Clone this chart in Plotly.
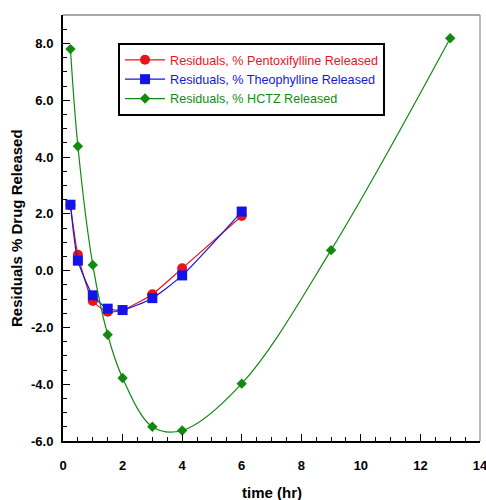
import plotly.graph_objects as go

time_pentox = [0.25, 0.5, 1, 1.5, 2, 3, 4, 6]
resid_pentox = [2.3, 0.56, -1.07, -1.45, -1.39, -0.83, 0.08, 1.92]

time_theo = [0.25, 0.5, 1, 1.5, 2, 3, 4, 6]
resid_theo = [2.32, 0.35, -0.87, -1.34, -1.39, -0.97, -0.17, 2.08]

time_hctz = [0.25, 0.5, 1, 1.5, 2, 3, 4, 6, 9, 13]
resid_hctz = [7.8, 4.38, 0.2, -2.26, -3.78, -5.5, -5.63, -3.98, 0.72, 8.18]

y_ticks = [-6, -4, -2, 0, 2, 4, 6, 8]
x_ticks = [0, 2, 4, 6, 8, 10, 12, 14]

FONT = "Liberation Sans, Arial, sans-serif"
RED, BLUE, GREEN = "#e8141c", "#1414e8", "#128a12"

fig = go.Figure()
fig.add_trace(go.Scatter(
    x=time_pentox, y=resid_pentox, mode="lines+markers",
    name=f"<span style='color:{RED}'>Residuals, % Pentoxifylline Released</span>",
    line=dict(color=RED, width=1.2, shape="spline", smoothing=0.6),
    marker=dict(symbol="circle", size=10, color=RED),
))
fig.add_trace(go.Scatter(
    x=time_theo, y=resid_theo, mode="lines+markers",
    name=f"<span style='color:{BLUE}'>Residuals, % Theophylline Released</span>",
    line=dict(color=BLUE, width=1.2, shape="spline", smoothing=0.6),
    marker=dict(symbol="square", size=10, color=BLUE),
))
fig.add_trace(go.Scatter(
    x=time_hctz, y=resid_hctz, mode="lines+markers",
    name=f"<span style='color:{GREEN}'>Residuals, % HCTZ Released</span>",
    line=dict(color=GREEN, width=1.2, shape="spline", smoothing=1.0),
    marker=dict(symbol="diamond", size=8, color=GREEN),
))

fig.update_layout(
    width=486, height=500,
    margin=dict(l=63, r=6, t=15, b=59, autoexpand=False),
    paper_bgcolor="white", plot_bgcolor="white",
    font=dict(family=FONT, size=12, color="black"),
    showlegend=True,
    legend=dict(
        x=0.132, y=0.934, xanchor="left", yanchor="top",
        bordercolor="black", borderwidth=2, bgcolor="white",
        font=dict(size=12.6, family=FONT),
        tracegroupgap=0, itemwidth=40,
    ),
    xaxis=dict(
        range=[0, 14], tickvals=x_ticks, ticktext=[str(v) for v in x_ticks],
        ticks="inside", ticklen=7, tickwidth=1, tickcolor="black",
        minor=dict(dtick=0.5, ticks="inside", ticklen=4, tickcolor="black", showgrid=False),
        showline=True, linecolor="black", linewidth=2,
        showgrid=False, zeroline=False, automargin=False,
        tickfont=dict(size=13, family=FONT, weight="bold"),
        ticklabelstandoff=11, ticklabeloverflow="allow",
    ),
    yaxis=dict(
        range=[-6, 9], tickvals=y_ticks, ticktext=["%.1f" % v for v in y_ticks],
        ticks="inside", ticklen=7, tickwidth=1, tickcolor="black",
        minor=dict(dtick=0.5, ticks="inside", ticklen=4, tickcolor="black", showgrid=False),
        showline=True, linecolor="black", linewidth=2,
        showgrid=False, zeroline=False, automargin=False,
        tickfont=dict(size=13, family=FONT, weight="bold"),
        ticklabelstandoff=5, ticklabeloverflow="allow",
    ),
    annotations=[
        dict(text="<b>time (hr)</b>", xref="paper", yref="paper", x=0.5, y=0,
             yshift=-51, showarrow=False, font=dict(size=15, family=FONT),
             xanchor="center", yanchor="middle"),
        dict(text="<b>Residuals % Drug Released</b>", xref="paper", yref="paper",
             x=0, y=0.5, xshift=-47, textangle=-90, showarrow=False,
             font=dict(size=15, family=FONT), xanchor="center", yanchor="middle"),
    ],
    shapes=[
        dict(type="line", xref="paper", yref="paper", x0=0, x1=1, y0=1, y1=1,
             line=dict(color="#555555", width=1)),
        dict(type="line", xref="paper", yref="paper", x0=1, x1=1, y0=0, y1=1,
             line=dict(color="#777777", width=1)),
    ],
)

fig.write_html("out.html", config={"displayModeBar": False},
               post_script="document.body.style.margin='0';document.body.style.overflow='hidden';")
